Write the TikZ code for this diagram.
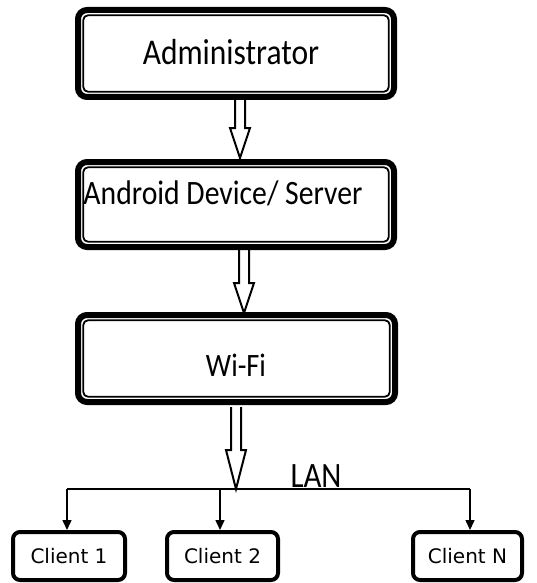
\documentclass[tikz,border=0pt]{standalone}
\usepackage{fontspec}
\setmainfont{Carlito}
\newfontfamily\clientfont{DejaVu Sans}
\usetikzlibrary{arrows.meta,calc}
\tikzset{
  boxnode/.style={inner sep=0pt, outer sep=0pt},
  outerframe/.style={line width=6pt, rounded corners=9pt, fill=white},
  innerframe/.style={line width=1.8pt, rounded corners=5pt},
  clientbox/.style={draw, line width=4pt, rounded corners=7pt, fill=white, inner sep=0pt,
     minimum height=48pt, font=\clientfont\fontsize{20}{22}\selectfont},
  blockarrow/.style={line width=2pt, fill=white, line join=miter},
  lanline/.style={line width=1.3pt},
  droparrow/.style={line width=1.5pt, -{Triangle[width=9pt,length=10pt]}},
}
\newcommand{\dframe}[1]{%
  \draw[outerframe] ([shift={(3,3)}]#1.north west) rectangle ([shift={(-3,-3)}]#1.south east);
  \draw[innerframe] ([shift={(8.2,8.2)}]#1.north west) rectangle ([shift={(-8.2,-8.2)}]#1.south east);}
\newcommand{\barrow}[4]{% x, top, headstart, tip
  \draw[blockarrow] (#1-5,#2) -- (#1-5,#3) -- (#1-10,#3) -- (#1,#4) -- (#1+10,#3) -- (#1+5,#3) -- (#1+5,#2);}
\newcommand{\tall}[1]{\scalebox{1}[1.15]{#1}}
\begin{document}
\begin{tikzpicture}[x=1pt,y=-1pt]
\useasboundingbox (0,0) rectangle (537,583);
% main boxes
\node[boxnode, minimum width=322pt, minimum height=93pt] (b1) at (236,53.5) {};
\node[boxnode, minimum width=322pt, minimum height=91pt] (b2) at (236,204.5) {};
\node[boxnode, minimum width=323pt, minimum height=93pt] (b3) at (236.5,358.5) {};
% block arrows (drawn first, frames cover ends)
\barrow{240}{98}{128}{158}
\barrow{244}{248}{283}{313}
\dframe{b1}
\dframe{b2}
\dframe{b3}
\node[anchor=base, inner sep=0pt, font=\fontsize{31.5}{34}\selectfont] (t1) at (231,65) {\tall{Administrator}};
\node[anchor=base, inner sep=0pt, font=\fontsize{29.7}{32}\selectfont] (t2) at (223,204) {\tall{Android Device/ Server}};
\node[anchor=base, inner sep=0pt, font=\fontsize{28.4}{31}\selectfont] (t3) at (236,376) {\tall{Wi-Fi}};
% LAN
\coordinate (lanL) at (67,489);
\coordinate (lanR) at (470,489);
\coordinate (j2) at (220,489);
\barrow{236}{407}{450}{489}
\draw[lanline] (lanL) -- (lanR);
\node[anchor=base, inner sep=0pt, font=\fontsize{31}{33}\selectfont] (lan) at (316,487) {\tall{LAN}};
% clients
\node[clientbox, minimum width=112pt] (c1) at (69,556) {Client 1};
\node[clientbox, minimum width=111pt] (c2) at (222.5,556) {Client 2};
\node[clientbox, minimum width=109pt] (cn) at (467.5,556) {Client N};
\draw[droparrow] (lanL) -- (lanL |- c1.north);
\draw[droparrow] (j2) -- (j2 |- c2.north);
\draw[droparrow] (lanR) -- (lanR |- cn.north);
\end{tikzpicture}
\end{document}
